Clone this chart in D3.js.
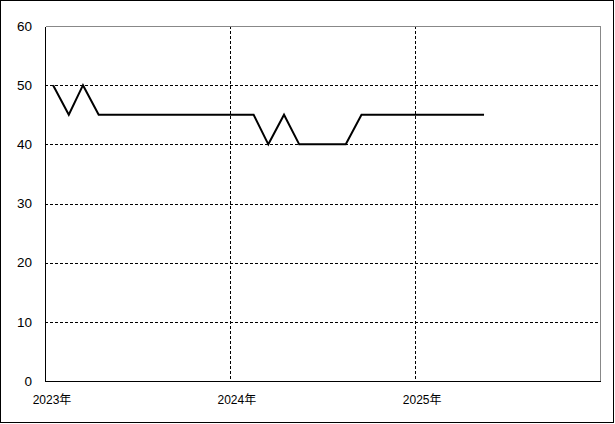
<!DOCTYPE html>
<html>
<head>
<meta charset="utf-8">
<script src="https://cdn.jsdelivr.net/npm/d3@7"></script>
<style>
  html, body { margin: 0; padding: 0; background: #fff; }
  svg { display: block; }
  text { font-family: "Liberation Sans", "Noto Sans CJK JP", sans-serif; font-size: 12px; fill: #000; }
  .ylab { font-size: 13.5px; }
</style>
</head>
<body>
<svg id="chart" width="615" height="424"></svg>
<script>
// Data: monthly values (one per month, plotted mid-month)
const months = ["2023-01","2023-02","2023-03","2023-04","2023-05","2023-06","2023-07","2023-08","2023-09","2023-10","2023-11","2023-12",
                "2024-01","2024-02","2024-03","2024-04","2024-05","2024-06","2024-07","2024-08","2024-09","2024-10","2024-11","2024-12",
                "2025-01","2025-02","2025-03","2025-04","2025-05"];
const values = [50,45,50,45,45,45,45,45,45,45,45,45,
                45,45,40,45,40,40,40,40,45,45,45,45,
                45,45,45,45,45];
const yTicks = [0,10,20,30,40,50,60];
const xTickYears = ["2023","2024","2025"];
const xTickSuffix = "年";

const svg = d3.select("#chart");
const W = 615, H = 424;
const margin = {left: 45, right: 15, top: 26, bottom: 43};
const x0 = margin.left, x1 = W - margin.right, y0 = H - margin.bottom, y1 = margin.top;

// outer border
svg.append("rect").attr("x", 0.5).attr("y", 0.5).attr("width", W - 2).attr("height", H - 2)
  .attr("fill", "none").attr("stroke", "#000").attr("shape-rendering", "crispEdges");

const parse = d3.timeParse("%Y-%m-%d");
const x = d3.scaleTime().domain([parse("2023-01-01"), parse("2026-01-01")]).range([x0, x1]);
const y = d3.scaleLinear().domain([0, 60]).range([y0, y1]);

const data = months.map((m, i) => ({date: parse(m + "-17"), value: values[i]}));
const tickDates = xTickYears.map(yv => parse(yv + "-01-01"));

// horizontal grid
svg.append("g").selectAll("line").data(yTicks.filter(t => t > 0 && t < 60)).join("line")
  .attr("x1", x0).attr("x2", x1)
  .attr("y1", d => Math.round(y(d)) + 0.5).attr("y2", d => Math.round(y(d)) + 0.5)
  .attr("stroke", "#000").attr("stroke-dasharray", "3,2").attr("shape-rendering", "crispEdges");

// vertical grid
svg.append("g").selectAll("line").data(tickDates.slice(1)).join("line")
  .attr("x1", d => Math.round(x(d)) + 0.5).attr("x2", d => Math.round(x(d)) + 0.5)
  .attr("y1", y1).attr("y2", y0)
  .attr("stroke", "#000").attr("stroke-dasharray", "3,2").attr("shape-rendering", "crispEdges");

// top and right border (gray)
svg.append("path")
  .attr("d", `M${x0 + 0.5},${y1 + 0.5}H${x1 + 0.5}V${y0 + 0.5}`)
  .attr("fill", "none").attr("stroke", "#888").attr("shape-rendering", "crispEdges");

// left and bottom axes (black)
svg.append("path")
  .attr("d", `M${x0 + 0.5},${y1 + 0.5}V${y0 + 0.5}H${x1 + 0.5}`)
  .attr("fill", "none").attr("stroke", "#000").attr("shape-rendering", "crispEdges");

// y labels
svg.append("g").selectAll("text").data(yTicks).join("text")
  .attr("class", "ylab")
  .attr("x", x0 - 13).attr("y", d => y(d)).attr("dy", "0.35em")
  .attr("text-anchor", "end").text(d => d);

// x labels
svg.append("g").selectAll("text").data(tickDates).join("text")
  .attr("x", d => x(d) + 7).attr("y", 404)
  .attr("text-anchor", "middle").text((d, i) => xTickYears[i] + xTickSuffix);

// line
const line = d3.line().x(d => x(d.date)).y(d => y(d.value));
svg.append("path").datum(data).attr("d", line)
  .attr("fill", "none").attr("stroke", "#000").attr("stroke-width", 2).attr("stroke-linejoin", "miter");
</script>
</body>
</html>
